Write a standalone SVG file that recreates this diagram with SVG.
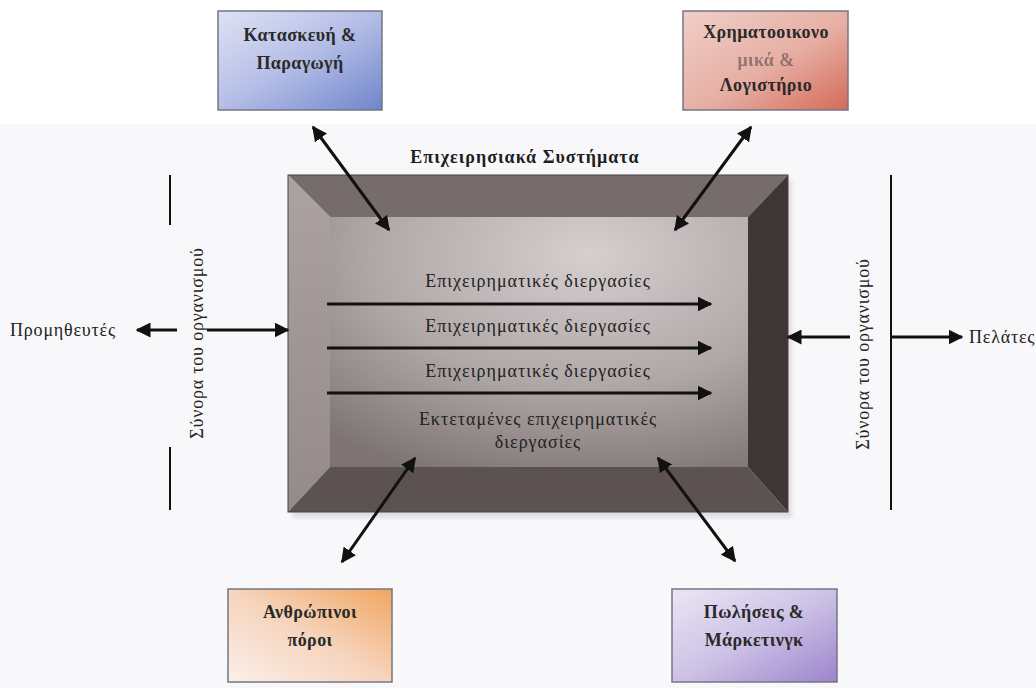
<svg xmlns="http://www.w3.org/2000/svg" width="1036" height="688" viewBox="0 0 1036 688">
  <defs>
    <linearGradient id="gBlue" x1="0" y1="0" x2="1" y2="1">
      <stop offset="0" stop-color="#dfe2f4"/>
      <stop offset="0.5" stop-color="#b4bde6"/>
      <stop offset="1" stop-color="#6f86cc"/>
    </linearGradient>
    <linearGradient id="gRed" x1="0" y1="0" x2="1" y2="1">
      <stop offset="0" stop-color="#f0cfc8"/>
      <stop offset="0.55" stop-color="#e6aea3"/>
      <stop offset="1" stop-color="#d46a58"/>
    </linearGradient>
    <linearGradient id="gOrange" x1="0" y1="1" x2="1" y2="0">
      <stop offset="0" stop-color="#fbefea"/>
      <stop offset="0.5" stop-color="#f6d4bd"/>
      <stop offset="1" stop-color="#f0a65e"/>
    </linearGradient>
    <linearGradient id="gPurple" x1="0" y1="0" x2="1" y2="1">
      <stop offset="0" stop-color="#ebe6f5"/>
      <stop offset="0.5" stop-color="#cdc2e6"/>
      <stop offset="1" stop-color="#9c84cc"/>
    </linearGradient>
    <radialGradient id="gInner" cx="0.62" cy="0.15" r="0.95">
      <stop offset="0" stop-color="#d6cfcf"/>
      <stop offset="0.55" stop-color="#b0a7a7"/>
      <stop offset="1" stop-color="#7e7474"/>
    </radialGradient>
    <linearGradient id="gLeft" x1="0" y1="0" x2="0" y2="1">
      <stop offset="0" stop-color="#aca2a2"/>
      <stop offset="1" stop-color="#948a8a"/>
    </linearGradient>
    <marker id="head" viewBox="0 0 10 10" refX="9" refY="5" markerWidth="5" markerHeight="5" orient="auto-start-reverse" markerUnits="strokeWidth">
      <path d="M0,0 L10,5 L0,10 Z" fill="#111"/>
    </marker>
    <filter id="soft" x="-10%" y="-10%" width="120%" height="120%">
      <feGaussianBlur stdDeviation="2"/>
    </filter>
  </defs>
  <style>
    .box { stroke: #767684; stroke-width: 1.5; }
    .btxt { font-family: "Liberation Serif", "DejaVu Serif", serif; font-size: 18px; font-weight: bold; letter-spacing: 0.4px; fill: #2a2a2a; text-anchor: middle; }
    .title { font-family: "Liberation Serif", "DejaVu Serif", serif; font-size: 18px; font-weight: bold; letter-spacing: 1px; fill: #1e1e1e; text-anchor: middle; }
    .ptxt { font-family: "Liberation Serif", "DejaVu Serif", serif; font-size: 18px; letter-spacing: 1px; fill: #222; text-anchor: middle; }
    .stxt { font-family: "Liberation Serif", "DejaVu Serif", serif; font-size: 18px; letter-spacing: 0.8px; fill: #222; }
    .arr { stroke: #111; stroke-width: 3; fill: none; marker-end: url(#head); }
    .darr { stroke: #111; stroke-width: 3; fill: none; marker-start: url(#head); marker-end: url(#head); }
    .line { stroke: #111; stroke-width: 2; }
  </style>

  <rect width="1036" height="688" fill="#f8f8fa"/>
  <rect width="1036" height="124" fill="#ffffff"/>

  <!-- functional departments -->
  <g id="node-construction">
    <rect class="box" x="218" y="11" width="164" height="99" fill="url(#gBlue)"/>
    <text class="btxt" x="300" y="41">Κατασκευή &amp;</text>
    <text class="btxt" x="300" y="69">Παραγωγή</text>
  </g>
  <g id="node-finance">
    <rect class="box" x="683" y="11" width="165" height="99" fill="url(#gRed)"/>
    <text class="btxt" x="766" y="38">Χρηματοοικονο</text>
    <text class="btxt" x="766" y="66" opacity="0.45">μικά &amp;</text>
    <text class="btxt" x="766" y="91">Λογιστήριο</text>
  </g>
  <g id="node-hr">
    <rect class="box" x="228" y="589" width="164" height="93" fill="url(#gOrange)"/>
    <text class="btxt" x="310" y="618">Ανθρώπινοι</text>
    <text class="btxt" x="310" y="646">πόροι</text>
  </g>
  <g id="node-sales">
    <rect class="box" x="672" y="589" width="165" height="93" fill="url(#gPurple)"/>
    <text class="btxt" x="754" y="618">Πωλήσεις &amp;</text>
    <text class="btxt" x="754" y="646">Μάρκετινγκ</text>
  </g>

  <!-- central business systems frame -->
  <g id="node-systems">
    <rect x="292" y="180" width="500" height="338" fill="#cfcfd4" opacity="0.6" filter="url(#soft)"/>
    <polygon points="288,175 788,175 748,217 330,217" fill="#766c6c"/>
    <polygon points="288,175 330,217 330,467 288,512" fill="url(#gLeft)"/>
    <polygon points="788,175 788,512 748,467 748,217" fill="#3e3535"/>
    <polygon points="288,512 330,467 748,467 788,512" fill="#5c5252"/>
    <rect x="330" y="217" width="418" height="250" fill="url(#gInner)"/>
    <rect x="288" y="175" width="500" height="337" fill="none" stroke="#4a4242" stroke-width="1"/>
    <text class="title" x="525" y="163">Επιχειρησιακά Συστήματα</text>
    <text class="ptxt" x="538" y="287">Επιχειρηματικές  διεργασίες</text>
    <text class="ptxt" x="538" y="332">Επιχειρηματικές  διεργασίες</text>
    <text class="ptxt" x="538" y="377">Επιχειρηματικές  διεργασίες</text>
    <text class="ptxt" x="538" y="425">Εκτεταμένες επιχειρηματικές</text>
    <text class="ptxt" x="538" y="448">διεργασίες</text>
  </g>

  <!-- organisation boundaries and external parties -->
  <g id="node-suppliers">
    <text class="stxt" x="10" y="336">Προμηθευτές</text>
  </g>
  <g id="node-customers">
    <text class="stxt" x="969" y="343">Πελάτες</text>
  </g>
  <g id="boundary-left">
    <line class="line" x1="170" y1="175" x2="170" y2="225"/>
    <line class="line" x1="170" y1="447" x2="170" y2="510"/>
    <text class="stxt" x="0" y="0" text-anchor="middle" transform="translate(203,343) rotate(-90)">Σύνορα του οργανισμού</text>
  </g>
  <g id="boundary-right">
    <line class="line" x1="891" y1="175" x2="891" y2="510"/>
    <text class="stxt" x="0" y="0" text-anchor="middle" transform="translate(869,354) rotate(-90)">Σύνορα του οργανισμού</text>
  </g>

  <g id="connectors">
    <line class="arr" x1="327" y1="304" x2="711" y2="304"/>
    <line class="arr" x1="327" y1="348" x2="711" y2="348"/>
    <line class="arr" x1="327" y1="393" x2="711" y2="393"/>
    <line class="darr" x1="313" y1="127" x2="389" y2="230"/>
    <line class="darr" x1="751" y1="127" x2="675" y2="230"/>
    <line class="darr" x1="415" y1="458" x2="342" y2="562"/>
    <line class="darr" x1="658" y1="458" x2="735" y2="561"/>
    <line class="arr" x1="177" y1="330" x2="137" y2="330"/>
    <line class="arr" x1="207" y1="330" x2="288" y2="330"/>
    <line class="arr" x1="850" y1="337" x2="788" y2="337"/>
    <line class="arr" x1="891" y1="337" x2="962" y2="337"/>
  </g>
</svg>
